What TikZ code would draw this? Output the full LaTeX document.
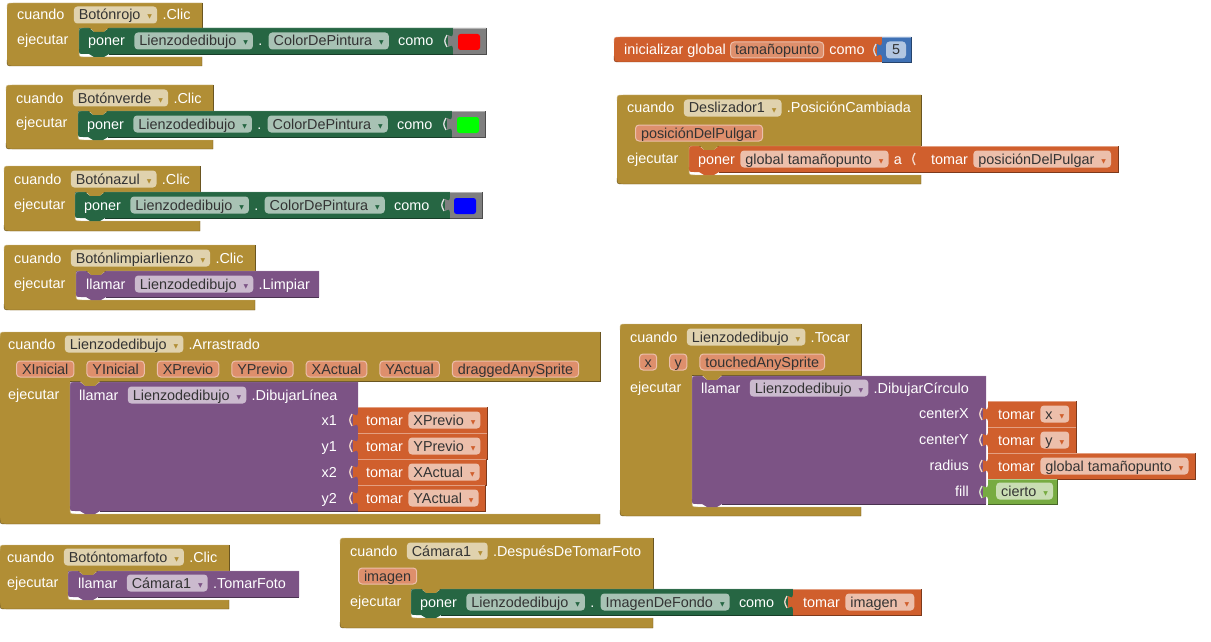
\documentclass[tikz,border=0pt]{standalone}
\usepackage{fontspec}
\setmainfont{Liberation Sans}
\newfontfamily\ddfont{DejaVu Sans}
\usetikzlibrary{positioning}
\definecolor{ctrlc}{HTML}{B18E35}
\definecolor{mutc}{HTML}{266643}
\definecolor{procc}{HTML}{7C5385}
\definecolor{varc}{HTML}{D05F2D}
\definecolor{mathc}{HTML}{3F71B5}
\definecolor{logc}{HTML}{77AB41}
\definecolor{greyc}{HTML}{7F7F7F}
\definecolor{inkc}{HTML}{333333}
\tikzstyle{lbl}=[inner sep=0pt,text=white,text height=13pt,text depth=3pt,font=\fontsize{14.4}{16}\selectfont]
\tikzstyle{rlbl}=[lbl,anchor=east]
\tikzset{field/.style={fill=#1!40!white,text=inkc,inner xsep=5pt,inner ysep=0.5pt,rounded corners=3.5pt,text height=13pt,text depth=3pt,font=\fontsize{14.4}{16}\selectfont}}
\tikzstyle{argf}=[fill=varc!70!white,draw=varc!40!white,line width=1pt,text=inkc,inner xsep=5.5pt,inner ysep=0pt,rounded corners=3.5pt,text height=13pt,text depth=3pt,font=\fontsize{14.4}{16}\selectfont]
\tikzstyle{swatch}=[minimum width=22pt,minimum height=16pt,inner sep=0pt,rounded corners=2.5pt]
\newcommand{\dd}[1]{\hspace{7pt}\raisebox{1pt}{\ddfont\fontsize{6}{6}\selectfont\textcolor{#1}{▼}}\hspace{1.5pt}}
% x0 y0 xright yhead xinner yinner ybottom xbar
\newcommand{\hatblock}[8]{
  \fill[ctrlc] (#1,#2+6) .. controls (#1,#2) .. (#1+6,#2) -- (#3,#2) -- (#3,#4) -- (#5,#4)
    -- (#5,#6-6) .. controls (#5,#6) .. (#5+6,#6) -- (#8,#6) -- (#8,#7) -- (#1+6,#7) .. controls (#1,#7) .. (#1,#7-6) -- cycle;
  \draw[ctrlc!60!white] (#1,#2+6) .. controls (#1,#2) .. (#1+6,#2) -- (#3,#2);
  \draw[ctrlc!60!white] (#5,#6-6) .. controls (#5,#6) .. (#5+6,#6) -- (#8,#6);
  \draw[ctrlc!60!black] (#3,#2) -- (#3,#4) -- (#5,#4);
  \draw[ctrlc!60!black] (#8,#6) -- (#8,#7) -- (#1+6,#7) .. controls (#1,#7) .. (#1,#7-6);
}
% colour x0 y0 x1 y1
\newcommand{\stmtblock}[5]{
  \fill[ctrlc] (#2+10,#3-1) -- (#2+30,#3-1) -- (#2+25,#3+4) -- (#2+15,#3+4) -- cycle;
  \fill[#1] (#2,#3+5) .. controls (#2,#3) .. (#2+5,#3) -- (#2+10,#3) -- (#2+15,#3+4) -- (#2+25,#3+4) -- (#2+30,#3)
    -- (#4,#3) -- (#4,#5) -- (#2+30,#5) -- (#2+25,#5+3) -- (#2+15,#5+3) -- (#2+10,#5)
    -- (#2+5,#5) .. controls (#2,#5) .. (#2,#5-5) -- cycle;
  \draw[#1!60!white] (#2,#5-5) -- (#2,#3+5) .. controls (#2,#3) .. (#2+5,#3) -- (#2+10,#3) (#2+30,#3) -- (#4,#3);
  \draw[#1!60!black] (#2+30,#5) -- (#4,#5);
}
% colour x0 y0 x1 y1
\newcommand{\valblock}[5]{
  \fill[#1] (#2,#3) -- (#4,#3) -- (#4,#5) -- (#2,#5) -- (#2,#3+20) .. controls (#2-1,#3+17) .. (#2-5,#3+19)
    -- (#2-5,#3+7) .. controls (#2-1,#3+9) .. (#2,#3+6) -- cycle;
  \draw[#1!60!white] (#2,#3) -- (#4,#3);
  \draw[#1!60!black] (#4,#3) -- (#4,#5) -- (#2,#5);
  \draw[white!75!#1,line width=1.3pt] (#2-6,#3+7) .. controls (#2-9,#3+13) .. (#2-6,#3+19);
}

\begin{document}
\begin{tikzpicture}[x=1pt,y=-1pt]
\useasboundingbox (0,0) rectangle (1211,642);
% blocks first
\hatblock{7}{3}{202}{28}{79}{57}{66}{202}
\stmtblock{mutc}{79}{28}{453}{54}
\valblock{greyc}{453}{28}{486}{54}
\hatblock{6}{85}{213}{111}{78}{140}{149}{213}
\stmtblock{mutc}{78}{111}{452}{137}
\valblock{greyc}{452}{111}{485}{137}
\hatblock{4}{166}{200}{192}{75}{221}{231}{200}
\stmtblock{mutc}{75}{192}{450}{218}
\valblock{greyc}{450}{192}{482}{218}
\hatblock{4}{245}{255}{271}{76}{300}{310}{255}
\stmtblock{procc}{76}{271}{319}{297}
\hatblock{0}{332}{600}{381}{70}{514}{524}{600}
\stmtblock{procc}{70}{382}{358}{511}
\valblock{varc}{358}{407}{487}{433}
\valblock{varc}{358}{433}{487}{459}
\valblock{varc}{358}{459}{486}{485}
\valblock{varc}{358}{485}{485}{511}
\hatblock{0}{545}{229}{571}{68}{600}{609}{229}
\stmtblock{procc}{68}{571}{299}{597}
\fill[varc] (614,43) .. controls (614,37) .. (620,37) -- (882,37) -- (882,62) -- (620,62) .. controls (614,62) .. (614,56) -- cycle;
\draw[varc!60!white] (614,43) .. controls (614,37) .. (620,37) -- (882,37);
\draw[varc!60!black] (882,62) -- (620,62) .. controls (614,62) .. (614,56);
\valblock{mathc}{882}{37}{911}{62}
\hatblock{617}{95}{921}{146}{689}{175}{184}{921}
\stmtblock{varc}{689}{146}{921}{172}
\valblock{varc}{921}{146}{1118}{172}
\hatblock{620}{324}{861}{375}{692}{507}{516}{861}
\stmtblock{procc}{692}{376}{986}{504}
\valblock{varc}{988}{401}{1076}{427}
\valblock{varc}{988}{427}{1076}{453}
\valblock{varc}{988}{453}{1195}{479}
\valblock{logc}{988}{479}{1057}{504}
\hatblock{340}{538}{653}{589}{411}{618}{628}{653}
\stmtblock{mutc}{411}{589}{793}{615}
\valblock{varc}{793}{589}{921}{615}
% rojo
\node[lbl,anchor=west] (cuR) at (17,15) {cuando};
\node[field=ctrlc,right=9pt of cuR] (fR) {Botónrojo\dd{ctrlc}};
\node[lbl,right=5pt of fR] (clR) {.Clic};
\node[lbl,anchor=west] (ejR) at (17,40) {ejecutar};
\node[lbl,anchor=west] (poR) at (88,41) {poner};
\node[field=mutc,right=9pt of poR] (lzR) {Lienzodedibujo\dd{mutc}};
\node[lbl,right=5pt of lzR] (ptR) {.};
\node[field=mutc,right=6pt of ptR] (cpR) {ColorDePintura\dd{mutc}};
\node[lbl,right=9pt of cpR] (coR) {como};
\node[swatch,fill=red] (swR) at (469,42) {};
% verde
\node[lbl,anchor=west] (cuV) at (16,98) {cuando};
\node[field=ctrlc,right=9pt of cuV] (fV) {Botónverde\dd{ctrlc}};
\node[lbl,right=5pt of fV] (clV) {.Clic};
\node[lbl,anchor=west] (ejV) at (16,123) {ejecutar};
\node[lbl,anchor=west] (poV) at (87,124) {poner};
\node[field=mutc,right=9pt of poV] (lzV) {Lienzodedibujo\dd{mutc}};
\node[lbl,right=5pt of lzV] (ptV) {.};
\node[field=mutc,right=6pt of ptV] (cpV) {ColorDePintura\dd{mutc}};
\node[lbl,right=9pt of cpV] (coV) {como};
\node[swatch,fill=green] (swV) at (468,125) {};
% azul
\node[lbl,anchor=west] (cuA) at (14,179) {cuando};
\node[field=ctrlc,right=9pt of cuA] (fA) {Botónazul\dd{ctrlc}};
\node[lbl,right=5pt of fA] (clA) {.Clic};
\node[lbl,anchor=west] (ejA) at (14,204) {ejecutar};
\node[lbl,anchor=west] (poA) at (84,205) {poner};
\node[field=mutc,right=9pt of poA] (lzA) {Lienzodedibujo\dd{mutc}};
\node[lbl,right=5pt of lzA] (ptA) {.};
\node[field=mutc,right=6pt of ptA] (cpA) {ColorDePintura\dd{mutc}};
\node[lbl,right=9pt of cpA] (coA) {como};
\node[swatch,fill=blue] (swA) at (465,206) {};
% limpiar
\node[lbl,anchor=west] (cuL) at (14,258) {cuando};
\node[field=ctrlc,right=9pt of cuL] (fL) {Botónlimpiarlienzo\dd{ctrlc}};
\node[lbl,right=5pt of fL] (clL) {.Clic};
\node[lbl,anchor=west] (ejL) at (14,283) {ejecutar};
\node[lbl,anchor=west] (llL) at (86,284) {llamar};
\node[field=procc,right=9pt of llL] (lzL) {Lienzodedibujo\dd{procc}};
\node[lbl,right=5pt of lzL] (meL) {.Limpiar};
% arrastrado
\node[lbl,anchor=west] (cuD) at (8,344) {cuando};
\node[field=ctrlc,right=9pt of cuD] (fD) {Lienzodedibujo\dd{ctrlc}};
\node[lbl,right=5pt of fD] (clD) {.Arrastrado};
\node[argf,anchor=west] (aXi) at (16,369) {XInicial};
\node[argf,right=12pt of aXi] (aYi) {YInicial};
\node[argf,right=12pt of aYi] (aXp) {XPrevio};
\node[argf,right=12pt of aXp] (aYp) {YPrevio};
\node[argf,right=12pt of aYp] (aXa) {XActual};
\node[argf,right=12pt of aXa] (aYa) {YActual};
\node[argf,right=12pt of aYa] (aDr) {draggedAnySprite};
\node[lbl,anchor=west] (ejD) at (8,394) {ejecutar};
\node[lbl,anchor=west] (llD) at (79,395) {llamar};
\node[field=procc,right=9pt of llD] (lzD) {Lienzodedibujo\dd{procc}};
\node[lbl,right=5pt of lzD] (meD) {.DibujarLínea};
\foreach \nm/\tx/\vr/\yy in {a/x1/XPrevio/420,b/y1/YPrevio/446,c/x2/XActual/472,d/y2/YActual/498}{
  \node[rlbl] (p\nm) at (337,\yy) {\tx};
  \node[lbl,anchor=west] (t\nm) at (366,\yy) {tomar};
  \node[field=varc,right=5pt of t\nm] (v\nm) {\vr\dd{varc}};
}
% foto
\node[lbl,anchor=west] (cuF) at (7,557) {cuando};
\node[field=ctrlc,right=9pt of cuF] (fF) {Botóntomarfoto\dd{ctrlc}};
\node[lbl,right=5pt of fF] (clF) {.Clic};
\node[lbl,anchor=west] (ejF) at (7,582) {ejecutar};
\node[lbl,anchor=west] (llF) at (78,583) {llamar};
\node[field=procc,right=9pt of llF] (lzF) {Cámara1\dd{procc}};
\node[lbl,right=5pt of lzF] (meF) {.TomarFoto};
% global
\node[lbl,anchor=west] (inG) at (624,50) {inicializar global};
\node[argf,inner xsep=4.5pt,right=4pt of inG] (aG) {tamañopunto};
\node[lbl,right=5pt of aG] (coG) {como};
\node[field=mathc,inner xsep=6pt] (nG) at (896,50) {5};
% deslizador
\node[lbl,anchor=west] (cuS) at (627,108) {cuando};
\node[field=ctrlc,right=9pt of cuS] (fS) {Deslizador1\dd{ctrlc}};
\node[lbl,right=5pt of fS] (clS) {.PosiciónCambiada};
\node[argf,anchor=west] (aS) at (635,133) {posiciónDelPulgar};
\node[lbl,anchor=west] (ejS) at (627,158) {ejecutar};
\node[lbl,anchor=west] (poS) at (698,159) {poner};
\node[field=varc,right=5pt of poS] (gS) {global tamañopunto\dd{varc}};
\node[lbl,right=5pt of gS] (aaS) {a};
\node[lbl,anchor=west] (toS) at (931,159) {tomar};
\node[field=varc,right=5pt of toS] (vS) {posiciónDelPulgar\dd{varc}};
% tocar
\node[lbl,anchor=west] (cuT) at (630,337) {cuando};
\node[field=ctrlc,right=9pt of cuT] (fT) {Lienzodedibujo\dd{ctrlc}};
\node[lbl,right=5pt of fT] (clT) {.Tocar};
\node[argf,inner xsep=5pt,anchor=west] (aTx) at (639,362) {x};
\node[argf,inner xsep=5pt,right=12pt of aTx] (aTy) {y};
\node[argf,right=12pt of aTy] (aTs) {touchedAnySprite};
\node[lbl,anchor=west] (ejT) at (630,387) {ejecutar};
\node[lbl,anchor=west] (llT) at (701,388) {llamar};
\node[field=procc,right=9pt of llT] (lzT) {Lienzodedibujo\dd{procc}};
\node[lbl,right=5pt of lzT] (meT) {.DibujarCírculo};
\node[rlbl] (pe) at (969,413) {centerX};
\node[rlbl] (pf) at (969,439) {centerY};
\node[rlbl] (pg) at (969,465) {radius};
\node[rlbl] (ph) at (969,491) {fill};
\foreach \nm/\vr/\yy in {e/x/414,f/y/440,g/global tamañopunto/466}{
  \node[lbl,anchor=west] (t\nm) at (998,\yy) {tomar};
  \node[field=varc,right=5pt of t\nm] (v\nm) {\vr\dd{varc}};
}
\node[field=logc,anchor=west] (vh) at (996,491) {cierto\dd{logc}};
% camara
\node[lbl,anchor=west] (cuC) at (350,551) {cuando};
\node[field=ctrlc,right=9pt of cuC] (fC) {Cámara1\dd{ctrlc}};
\node[lbl,right=5pt of fC] (clC) {.DespuésDeTomarFoto};
\node[argf,anchor=west] (aC) at (358,576) {imagen};
\node[lbl,anchor=west] (ejC) at (350,601) {ejecutar};
\node[lbl,anchor=west] (poC) at (420,602) {poner};
\node[field=mutc,right=9pt of poC] (lzC) {Lienzodedibujo\dd{mutc}};
\node[lbl,right=5pt of lzC] (ptC) {.};
\node[field=mutc,right=6pt of ptC] (imC) {ImagenDeFondo\dd{mutc}};
\node[lbl,right=9pt of imC] (coC) {como};
\node[lbl,anchor=west] (toC) at (803,602) {tomar};
\node[field=varc,right=5pt of toC] (vC) {imagen\dd{varc}};
\end{tikzpicture}
\end{document}
